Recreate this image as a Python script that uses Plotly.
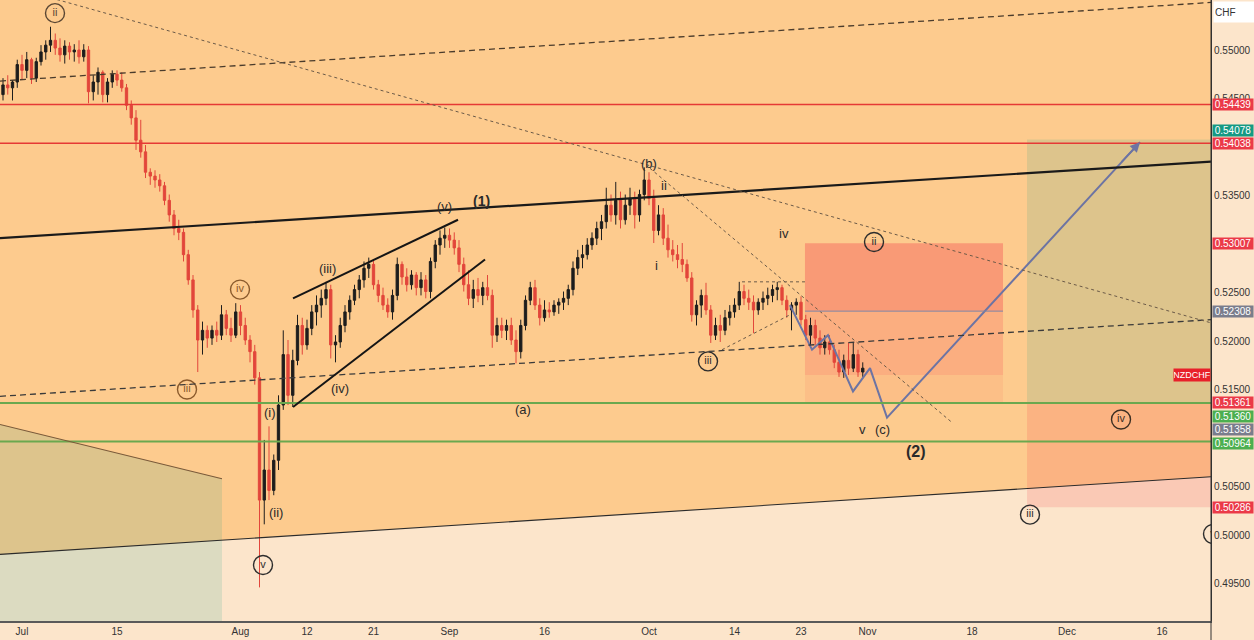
import plotly.graph_objects as go
import pandas as pd

# ---------------- data: NZDCHF 12-hour candles (from 2024-06-26 12:00) ----------------
open_ = [0.5459, 0.5454, 0.5464, 0.5461, 0.5467, 0.5485, 0.5479, 0.5490, 0.5471, 0.5488,
         0.5498, 0.5505, 0.5510, 0.5502, 0.5495, 0.5504, 0.5498, 0.5500, 0.5493, 0.5500,
         0.5457, 0.5467, 0.5477, 0.5454, 0.5467, 0.5475, 0.5469, 0.5461, 0.5443, 0.5430,
         0.5407, 0.5395, 0.5374, 0.5370, 0.5366, 0.5360, 0.5345, 0.5330, 0.5316, 0.5312,
         0.5289, 0.5263, 0.5232, 0.5201, 0.5211, 0.5203, 0.5211, 0.5206, 0.5227, 0.5213,
         0.5206, 0.5230, 0.5216, 0.5201, 0.5189, 0.5162, 0.5036, 0.5067, 0.5046, 0.5077,
         0.5134, 0.5186, 0.5144, 0.5180, 0.5216, 0.5196, 0.5213, 0.5230, 0.5237, 0.5244,
         0.5253, 0.5196, 0.5199, 0.5216, 0.5230, 0.5242, 0.5253, 0.5263, 0.5275, 0.5279,
         0.5258, 0.5247, 0.5237, 0.5230, 0.5247, 0.5279, 0.5266, 0.5258, 0.5268, 0.5255,
         0.5263, 0.5251, 0.5282, 0.5299, 0.5306, 0.5309, 0.5304, 0.5296, 0.5279, 0.5258,
         0.5244, 0.5253, 0.5247, 0.5255, 0.5247, 0.5206, 0.5216, 0.5211, 0.5216, 0.5201,
         0.5189, 0.5216, 0.5242, 0.5255, 0.5237, 0.5224, 0.5232, 0.5230, 0.5237, 0.5240,
         0.5244, 0.5253, 0.5275, 0.5286, 0.5289, 0.5299, 0.5306, 0.5316, 0.5323, 0.5340,
         0.5330, 0.5345, 0.5325, 0.5340, 0.5347, 0.5330, 0.5351, 0.5366, 0.5347, 0.5314,
         0.5330, 0.5306, 0.5294, 0.5289, 0.5284, 0.5279, 0.5265, 0.5227, 0.5237, 0.5247,
         0.5232, 0.5206, 0.5216, 0.5211, 0.5224, 0.5230, 0.5237, 0.5251, 0.5244, 0.5240,
         0.5232, 0.5240, 0.5244, 0.5247, 0.5253, 0.5255, 0.5242, 0.5232, 0.5237, 0.5240,
         0.5222, 0.5206, 0.5216, 0.5203, 0.5193, 0.5199, 0.5191, 0.5178, 0.5168, 0.5180,
         0.5172, 0.5186, 0.5168]
high = [0.5467, 0.5471, 0.5474, 0.5469, 0.5490, 0.5495, 0.5498, 0.5492, 0.5492, 0.5505,
        0.5510, 0.5524, 0.5517, 0.5512, 0.5510, 0.5508, 0.5506, 0.5510, 0.5506, 0.5504,
        0.5474, 0.5482, 0.5479, 0.5471, 0.5479, 0.5479, 0.5477, 0.5465, 0.5448, 0.5438,
        0.5428, 0.5402, 0.5378, 0.5376, 0.5372, 0.5364, 0.5351, 0.5335, 0.5325, 0.5316,
        0.5294, 0.5268, 0.5237, 0.5220, 0.5216, 0.5216, 0.5220, 0.5237, 0.5232, 0.5224,
        0.5239, 0.5237, 0.5224, 0.5206, 0.5196, 0.5168, 0.5098, 0.5112, 0.5083, 0.5144,
        0.5211, 0.5201, 0.5191, 0.5227, 0.5224, 0.5222, 0.5237, 0.5247, 0.5253, 0.5261,
        0.5258, 0.5206, 0.5224, 0.5237, 0.5247, 0.5258, 0.5268, 0.5282, 0.5286, 0.5284,
        0.5263, 0.5255, 0.5244, 0.5253, 0.5286, 0.5282, 0.5275, 0.5273, 0.5271, 0.5271,
        0.5268, 0.5286, 0.5304, 0.5314, 0.5317, 0.5316, 0.5312, 0.5304, 0.5286, 0.5273,
        0.5263, 0.5265, 0.5261, 0.5268, 0.5253, 0.5224, 0.5224, 0.5222, 0.5224, 0.5211,
        0.5222, 0.5247, 0.5261, 0.5263, 0.5244, 0.5242, 0.5240, 0.5242, 0.5244, 0.5251,
        0.5258, 0.5282, 0.5294, 0.5299, 0.5306, 0.5312, 0.5323, 0.5330, 0.5358, 0.5351,
        0.5364, 0.5354, 0.5351, 0.5358, 0.5354, 0.5356, 0.5379, 0.5374, 0.5356, 0.5340,
        0.5337, 0.5320, 0.5304, 0.5299, 0.5301, 0.5284, 0.5271, 0.5242, 0.5253, 0.5260,
        0.5237, 0.5224, 0.5227, 0.5232, 0.5237, 0.5244, 0.5261, 0.5258, 0.5253, 0.5247,
        0.5244, 0.5251, 0.5255, 0.5258, 0.5261, 0.5258, 0.5247, 0.5240, 0.5244, 0.5246,
        0.5227, 0.5224, 0.5222, 0.5211, 0.5206, 0.5206, 0.5196, 0.5191, 0.5186, 0.5198,
        0.5198, 0.5191, 0.5178]
low = [0.5445, 0.5448, 0.5454, 0.5448, 0.5461, 0.5469, 0.5471, 0.5465, 0.5467, 0.5484,
       0.5490, 0.5498, 0.5495, 0.5488, 0.5486, 0.5490, 0.5488, 0.5486, 0.5488, 0.5445,
       0.5448, 0.5454, 0.5446, 0.5446, 0.5461, 0.5463, 0.5457, 0.5438, 0.5423, 0.5397,
       0.5389, 0.5368, 0.5361, 0.5358, 0.5354, 0.5340, 0.5323, 0.5309, 0.5304, 0.5282,
       0.5258, 0.5224, 0.5168, 0.5186, 0.5193, 0.5196, 0.5199, 0.5201, 0.5206, 0.5199,
       0.5203, 0.5206, 0.5196, 0.5178, 0.5155, 0.4946, 0.5011, 0.5036, 0.5041, 0.5067,
       0.5129, 0.5134, 0.5132, 0.5175, 0.5186, 0.5191, 0.5206, 0.5216, 0.5224, 0.5237,
       0.5182, 0.5178, 0.5193, 0.5209, 0.5222, 0.5237, 0.5244, 0.5255, 0.5265, 0.5253,
       0.5240, 0.5232, 0.5224, 0.5222, 0.5242, 0.5258, 0.5251, 0.5253, 0.5247, 0.5247,
       0.5244, 0.5244, 0.5275, 0.5289, 0.5296, 0.5296, 0.5289, 0.5271, 0.5251, 0.5237,
       0.5234, 0.5240, 0.5237, 0.5242, 0.5193, 0.5199, 0.5203, 0.5201, 0.5196, 0.5177,
       0.5182, 0.5211, 0.5237, 0.5232, 0.5216, 0.5220, 0.5224, 0.5226, 0.5228, 0.5232,
       0.5237, 0.5247, 0.5268, 0.5275, 0.5284, 0.5294, 0.5299, 0.5304, 0.5316, 0.5323,
       0.5320, 0.5316, 0.5320, 0.5330, 0.5316, 0.5323, 0.5345, 0.5340, 0.5301, 0.5309,
       0.5299, 0.5286, 0.5282, 0.5275, 0.5271, 0.5261, 0.5220, 0.5216, 0.5224, 0.5227,
       0.5198, 0.5201, 0.5199, 0.5206, 0.5216, 0.5224, 0.5232, 0.5237, 0.5232, 0.5208,
       0.5227, 0.5232, 0.5237, 0.5240, 0.5242, 0.5237, 0.5224, 0.5211, 0.5227, 0.5216,
       0.5201, 0.5193, 0.5196, 0.5186, 0.5186, 0.5186, 0.5172, 0.5163, 0.5162, 0.5165,
       0.5168, 0.5163, 0.5163]
close = [0.5454, 0.5464, 0.5461, 0.5467, 0.5485, 0.5479, 0.5490, 0.5471, 0.5488, 0.5498,
         0.5505, 0.5510, 0.5502, 0.5495, 0.5504, 0.5498, 0.5500, 0.5493, 0.5500, 0.5457,
         0.5467, 0.5477, 0.5454, 0.5467, 0.5475, 0.5469, 0.5461, 0.5443, 0.5430, 0.5407,
         0.5395, 0.5374, 0.5370, 0.5366, 0.5360, 0.5345, 0.5330, 0.5316, 0.5312, 0.5289,
         0.5263, 0.5232, 0.5201, 0.5211, 0.5203, 0.5211, 0.5206, 0.5227, 0.5213, 0.5206,
         0.5230, 0.5216, 0.5201, 0.5189, 0.5162, 0.5036, 0.5067, 0.5046, 0.5077, 0.5134,
         0.5186, 0.5144, 0.5180, 0.5216, 0.5196, 0.5213, 0.5230, 0.5237, 0.5244, 0.5253,
         0.5196, 0.5199, 0.5216, 0.5230, 0.5242, 0.5253, 0.5263, 0.5275, 0.5279, 0.5258,
         0.5247, 0.5237, 0.5230, 0.5247, 0.5279, 0.5266, 0.5258, 0.5268, 0.5255, 0.5263,
         0.5251, 0.5282, 0.5299, 0.5306, 0.5309, 0.5304, 0.5296, 0.5279, 0.5258, 0.5244,
         0.5253, 0.5247, 0.5255, 0.5247, 0.5206, 0.5216, 0.5211, 0.5216, 0.5201, 0.5189,
         0.5216, 0.5242, 0.5255, 0.5237, 0.5224, 0.5232, 0.5230, 0.5237, 0.5240, 0.5244,
         0.5253, 0.5275, 0.5286, 0.5289, 0.5299, 0.5306, 0.5316, 0.5323, 0.5340, 0.5330,
         0.5345, 0.5325, 0.5340, 0.5347, 0.5330, 0.5351, 0.5366, 0.5347, 0.5314, 0.5330,
         0.5306, 0.5294, 0.5289, 0.5284, 0.5279, 0.5265, 0.5227, 0.5237, 0.5247, 0.5232,
         0.5206, 0.5216, 0.5211, 0.5224, 0.5230, 0.5237, 0.5251, 0.5244, 0.5240, 0.5232,
         0.5240, 0.5244, 0.5247, 0.5253, 0.5255, 0.5242, 0.5232, 0.5237, 0.5240, 0.5222,
         0.5206, 0.5216, 0.5203, 0.5193, 0.5199, 0.5191, 0.5178, 0.5168, 0.5180, 0.5172,
         0.5186, 0.5168, 0.5172]

candle_days = pd.bdate_range("2024-06-26", "2024-10-31")
candle_times = [t for d in candle_days for t in (d, d + pd.Timedelta(hours=12))][1:]

# horizontal levels
red_levels = [0.54439, 0.54038]
green_levels = [0.51361, 0.50964]

# projected path (blue zig-zag)
proj_x = ["2024-10-21 20:10", "2024-10-24 03:47", "2024-10-25 20:10", "2024-10-30 11:20",
          "2024-11-01 06:20", "2024-11-05 01:15", "2024-12-11 16:25"]
proj_y = [0.5237, 0.5191, 0.5206, 0.5148, 0.5172, 0.5121, 0.5405]

# axis ticks (0.540 and 0.510 are hidden behind price tags in the reference)
y_ticks = [0.495, 0.500, 0.505, 0.515, 0.520, 0.525, 0.530, 0.535, 0.545, 0.550]
x_tick_dates = ["2024-07-01", "2024-07-15", "2024-08-01", "2024-08-12", "2024-08-21", "2024-09-02",
                "2024-09-16", "2024-10-01", "2024-10-14", "2024-10-23", "2024-11-01", "2024-11-18",
                "2024-12-02", "2024-12-16"]
x_tick_text = ["Jul", "15", "Aug", "12", "21", "Sep", "16", "Oct", "14", "23", "Nov", "18", "Dec", "16"]

# price tags on axis: (text, label position, colour)
price_tags = [("0.54439", 0.54439, "#EB3A48"), ("0.54078", 0.54175, "#159A84"),
              ("0.54038", 0.54035, "#EB3A48"), ("0.53007", 0.53007, "#EB3A48"),
              ("0.52308", 0.52308, "#7A7D8C"), ("0.51361", 0.51361, "#EB3A48"),
              ("0.51360", 0.51222, "#4CAF50"), ("0.51358", 0.51085, "#7A7D8C"),
              ("0.50964", 0.50948, "#4CAF50"), ("0.50286", 0.50286, "#EB3A48")]

# wave labels
wave_texts = [("(i)", "2024-08-06 02:30", 0.5126, 13, False), ("(ii)", "2024-08-06 17:40", 0.5023, 13, False),
              ("(iii)", "2024-08-14 02:30", 0.5275, 13, False), ("(iv)", "2024-08-15 11:22", 0.5151, 13, False),
              ("(v)", "2024-08-30 10:05", 0.5339, 13, False), ("(1)", "2024-09-05 07:35", 0.5344, 14, True),
              ("(a)", "2024-09-11 17:40", 0.5129, 13, False), ("(b)", "2024-10-01 00:00", 0.5383, 13, False),
              ("ii", "2024-10-02 13:55", 0.5360, 13, False), ("i", "2024-10-01 20:10", 0.5278, 13, False),
              ("iv", "2024-10-21 05:03", 0.5311, 13, False), ("v", "2024-10-31 10:05", 0.5109, 13, False),
              ("(c)", "2024-11-04 12:38", 0.5109, 13, False), ("(2)", "2024-11-08 02:30", 0.5086, 16, True)]
circled = [("ii", "2024-07-04 11:22", 0.5538, "#5a4633"), ("iv", "2024-07-31 22:43", 0.5253, "#8a5a2c"),
           ("iii", "2024-07-24 08:50", 0.5150, "#8a5a2c"), ("v", "2024-08-05 08:50", 0.4969, "#2d2d2d"),
           ("iii", "2024-10-09 05:03", 0.5179, "#2d2d2d"), ("ii", "2024-11-01 16:25", 0.5302, "#2d2d2d"),
           ("iv", "2024-12-09 16:25", 0.5119, "#3b2e22"), ("iii", "2024-11-26 02:30", 0.5021, "#2d2d2d"),
           ("v", "2024-12-23 08:50", 0.5001, "#2d2d2d")]

X_RANGE = ["2024-06-26 16:25", "2024-12-23 03:45"]
Y_RANGE = [0.491134, 0.555155]
FONT = "Liberation Sans"

fig = go.Figure()

fig.add_trace(go.Candlestick(
    x=candle_times, open=open_, high=high, low=low, close=close,
    increasing=dict(line=dict(color="#1d1d1d", width=1), fillcolor="#1d1d1d"),
    decreasing=dict(line=dict(color="#e2463b", width=1), fillcolor="#e2463b"),
    whiskerwidth=0, showlegend=False, hoverinfo="skip"))

fig.add_trace(go.Scatter(x=proj_x, y=proj_y, mode="lines",
                         line=dict(color="#6d74a3", width=2), showlegend=False, hoverinfo="skip"))

fig.add_trace(go.Scatter(
    x=[c[1] for c in circled], y=[c[2] for c in circled], mode="markers+text",
    text=[c[0] for c in circled], textposition="middle center",
    textfont=dict(size=11, color=[c[3] for c in circled], family=FONT),
    marker=dict(symbol="circle-open", size=19, color=[c[3] for c in circled], line=dict(width=1.4)),
    showlegend=False, hoverinfo="skip"))

shapes = []
# orange channel fill above bottom line
shapes.append(dict(type="path", xref="paper", yref="y",
                   path="M 0,0.4980 L 1,0.5060 L 1,0.5560 L 0,0.5560 Z",
                   fillcolor="#FDCB8E", line=dict(width=0), layer="below"))
# lower-left translucent zone
shapes.append(dict(type="path", xref="paper", yref="y",
                   path="M 0,0.5114 L 0.1833,0.5058 L 0.1833,0.4905 L 0,0.4905 Z",
                   fillcolor="rgba(8,153,129,0.13)", line=dict(width=0), layer="below"))
# short position zones
for y0, y1, a in [(0.52308, 0.53007, 0.33), (0.5165, 0.52308, 0.19), (0.51361, 0.5165, 0.08)]:
    shapes.append(dict(type="rect", xref="x", yref="y", x0="2024-10-23 10:00", x1="2024-11-21 06:20",
                       y0=y0, y1=y1, fillcolor=f"rgba(242,54,69,{a})", line=dict(width=0), layer="below"))
# long position zones
shapes.append(dict(type="rect", xref="x", yref="y", x0="2024-11-25 19:00", x1="2025-01-20",
                   y0=0.51361, y1=0.54078, fillcolor="rgba(8,153,129,0.13)", line=dict(width=0), layer="below"))
shapes.append(dict(type="rect", xref="x", yref="y", x0="2024-11-25 19:00", x1="2025-01-20",
                   y0=0.50286, y1=0.51361, fillcolor="rgba(242,54,69,0.16)", line=dict(width=0), layer="below"))


def seg(x0, y0, x1, y1, color, width, dash="solid", xref="x"):
    shapes.append(dict(type="line", xref=xref, yref="y", x0=x0, y0=y0, x1=x1, y1=y1,
                       line=dict(color=color, width=width, dash=dash), layer="above"))


for lv in red_levels:
    seg(0, lv, 1, lv, "#e53935", 1.5, xref="paper")
for lv in green_levels:
    seg(0, lv, 1, lv, "#6aa84f", 2, xref="paper")

seg(0, 0.5468, 1, 0.5549, "#4a3b2b", 1.3, "6px,4px", xref="paper")          # upper dashed
seg(0, 0.5306, 1, 0.5385, "#1a1a1a", 2.2, xref="paper")                      # thick trendline
seg(0, 0.5143, 1, 0.5222, "#3a3a3a", 1.3, "6px,4px", xref="paper")          # lower dashed
seg(0, 0.4980, 1, 0.5060, "#2b2b2b", 1.1, xref="paper")                      # bottom line
seg(X_RANGE[0], 0.5114, "2024-07-30 01:15", 0.5058, "#7a5a3a", 1.1)           # brown line
seg("2024-07-04 16:25", 0.5552, "2024-12-23 01:15", 0.5219, "#6b5a48", 1, "dot")
seg("2024-10-01 02:30", 0.5378, "2024-11-13 21:30", 0.5116, "#6b5a48", 1, "dot")
seg("2024-10-10 16:20", 0.5191, "2024-10-21 20:10", 0.5227, "#6b5a48", 1, "dot")
seg("2024-10-14 19:00", 0.5261, "2024-10-23 10:00", 0.5261, "#6b5a48", 1, "dot")
seg("2024-08-08 12:38", 0.5244, "2024-09-02 21:29", 0.5325, "#151515", 2)     # wedge top
seg("2024-08-08 12:38", 0.5132, "2024-09-05 17:41", 0.5284, "#151515", 2)     # wedge bottom
seg("2024-10-23 10:00", 0.52308, "2024-11-21 06:20", 0.52308, "#8088a8", 1)
shapes.append(dict(type="line", xref="paper", yref="paper", x0=1, x1=1, y0=-0.031, y1=1,
                   line=dict(color="#333333", width=1)))

annotations = []
for txt, xx, yy, sz, bold in wave_texts:
    annotations.append(dict(x=xx, y=yy, xref="x", yref="y", text=f"<b>{txt}</b>" if bold else txt,
                            showarrow=False, font=dict(size=sz, color="#2a2a2a", family=FONT)))
# arrow head of projection
annotations.append(dict(x=proj_x[-1], y=proj_y[-1], ax="2024-12-09 14:00", ay=0.5383, xref="x", yref="y",
                        axref="x", ayref="y", showarrow=True, arrowhead=2, arrowsize=1.1,
                        arrowwidth=1.8, arrowcolor="#6d74a3", text=""))
for txt, yy, col in price_tags:
    annotations.append(dict(x=1, y=yy, xref="paper", yref="y", xanchor="left", xshift=1,
                            text=txt, showarrow=False, bgcolor=col, width=40, height=11, borderpad=0,
                            font=dict(size=10, color="white", family=FONT)))
annotations.append(dict(x=1, y=0.5165, xref="paper", yref="y", xanchor="right", text="NZDCHF",
                        showarrow=False, bgcolor="#E8202A", width=36, height=12, borderpad=0,
                        font=dict(size=9, color="white", family=FONT)))
annotations.append(dict(x=1, y=1, xref="paper", yref="paper", xanchor="left", yanchor="top",
                        xshift=2, yshift=-1, text="CHF", showarrow=False, bgcolor="white",
                        width=38, height=18, align="left",
                        font=dict(size=10, color="#333333", family=FONT)))

fig.update_layout(
    width=1254, height=640,
    margin=dict(l=0, r=43, t=0, b=19),
    paper_bgcolor="#FCE5CB", plot_bgcolor="#FCE5CB",
    shapes=shapes, annotations=annotations, showlegend=False,
    font=dict(family=FONT, color="#333333"),
    xaxis=dict(type="date", range=X_RANGE, rangebreaks=[dict(bounds=["sat", "mon"])],
               tickvals=x_tick_dates, ticktext=x_tick_text, showgrid=False, zeroline=False,
               showline=True, linecolor="#5a5a5a", linewidth=1.5, ticks="",
               tickfont=dict(size=10, color="#333333", family=FONT),
               rangeslider=dict(visible=False), fixedrange=True),
    yaxis=dict(range=Y_RANGE, side="right", tickvals=y_ticks,
               ticktext=[f"{v:.5f}" for v in y_ticks], showgrid=False, zeroline=False,
               showline=True, linecolor="#333333", linewidth=1, ticks="",
               tickfont=dict(size=10, color="#333333", family=FONT), fixedrange=True),
)

fig.write_html("out.html")
